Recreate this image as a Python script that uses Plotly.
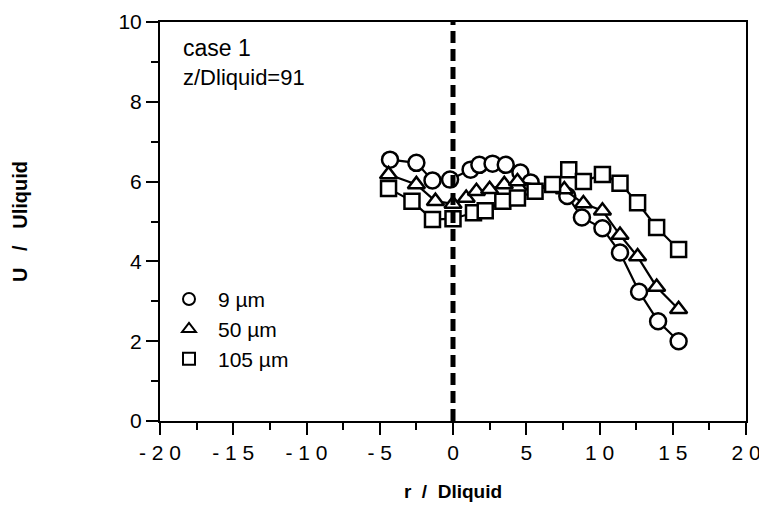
import plotly.graph_objects as go

# 9 um droplets (circles)
r_9 = [-4.3, -2.5, -1.4, -0.2, 1.2, 1.8, 2.7, 3.6, 4.6, 5.3, 7.8, 8.8, 10.2, 11.4, 12.7, 14.0, 15.4]
u_9 = [6.55, 6.47, 6.03, 6.05, 6.3, 6.42, 6.45, 6.42, 6.23, 5.98, 5.64, 5.1, 4.83, 4.22, 3.24, 2.5, 2.0]

# 50 um droplets (triangles)
r_50 = [-4.4, -2.5, -1.2, 0.0, 0.9, 1.6, 2.5, 3.5, 4.4, 7.6, 8.9, 10.2, 11.4, 12.6, 13.9, 15.4]
u_50 = [6.18, 5.93, 5.51, 5.44, 5.59, 5.76, 5.81, 5.93, 6.0, 5.8, 5.45, 5.27, 4.66, 4.12, 3.36, 2.8]

# 105 um droplets (squares)
r_105 = [-4.4, -2.8, -1.4, 0.0, 1.4, 2.2, 3.4, 4.4, 5.6, 6.8, 7.9, 8.9, 10.2, 11.4, 12.6, 13.9, 15.4]
u_105 = [5.83, 5.51, 5.05, 5.07, 5.22, 5.27, 5.51, 5.59, 5.76, 5.93, 6.3, 6.0, 6.18, 5.96, 5.47, 4.85, 4.3]

legend_names = ["9 \u00b5m", "50 \u00b5m", "105 \u00b5m"]
symbols = ["circle", "triangle-up", "square"]
sizes = [16, 15, 15]
legend_sizes = [14, 14, 14]

x_ticks = [-20, -15, -10, -5, 0, 5, 10, 15, 20]
x_ticktext = ["- 2 0", "- 1 5", "- 1 0", "- 5", "0", "5", "1 0", "1 5", "2 0"]
y_ticks = [0, 2, 4, 6, 8, 10]

FONT = "Liberation Sans, Arial, sans-serif"

fig = go.Figure()

series = [(r_9, u_9), (r_50, u_50), (r_105, u_105)]
legends = ["legend", "legend2", "legend3"]
for i, (xs, ys) in enumerate(series):
    fig.add_trace(go.Scatter(
        x=xs, y=ys, mode="lines+markers",
        line=dict(color="black", width=2.2),
        marker=dict(symbol=symbols[i], size=sizes[i], color="white",
                    line=dict(color="black", width=2.5)),
        showlegend=False,
    ))

# legend-only entries (markers only), one legend box per row
for i in range(3):
    fig.add_trace(go.Scatter(
        x=[None], y=[None], mode="markers", name=legend_names[i],
        marker=dict(symbol=symbols[i], size=legend_sizes[i], color="white",
                    line=dict(color="black", width=2.5)),
        showlegend=True, legend=legends[i],
    ))

# dashed vertical line at r = 0
fig.add_shape(type="line", x0=0, x1=0, y0=0, y1=10, xref="x", yref="y",
              line=dict(color="black", width=5, dash="12px,6px"))

fig.add_annotation(x=0.035, y=0.935, xref="paper", yref="paper", xanchor="left", yanchor="middle",
                   text="case 1", showarrow=False, font=dict(family=FONT, size=23, color="black"))
fig.add_annotation(x=0.035, y=0.86, xref="paper", yref="paper", xanchor="left", yanchor="middle",
                   text="z/Dliquid=91", showarrow=False, font=dict(family=FONT, size=22, color="black"))

leg_common = dict(xanchor="left", yanchor="middle", bgcolor="rgba(0,0,0,0)",
                  font=dict(family=FONT, size=21), itemsizing="constant", itemwidth=48)
fig.update_layout(
    width=767, height=506,
    margin=dict(l=152, r=29, t=14, b=93),
    paper_bgcolor="white", plot_bgcolor="white",
    font=dict(family=FONT, size=21, color="black"),
    legend=dict(x=0.0, y=0.305, **leg_common),
    legend2=dict(x=0.0, y=0.23, **leg_common),
    legend3=dict(x=0.0, y=0.155, **leg_common),
)

fig.update_xaxes(
    range=[-20, 20], tickvals=x_ticks, ticktext=x_ticktext, automargin=False,
    ticklabeloverflow="allow",
    showgrid=False, zeroline=False, showline=True, linecolor="black", linewidth=2, mirror=True,
    ticks="outside", ticklen=12, tickwidth=2, tickcolor="black",
    minor=dict(dtick=2.5, tick0=0, ticks="outside", ticklen=7, tickwidth=2, tickcolor="black"),
    tickfont=dict(family=FONT, size=21),
    title=dict(text="<b>r  /  Dliquid</b>", font=dict(family=FONT, size=19), standoff=21),
)
fig.update_yaxes(
    range=[0, 10], tickvals=y_ticks, ticktext=[str(v) for v in y_ticks], automargin=False,
    ticklabeloverflow="allow",
    showgrid=False, zeroline=False, showline=True, linecolor="black", linewidth=2, mirror=True,
    ticks="outside", ticklen=12, tickwidth=2, tickcolor="black", ticklabelstandoff=0,
    minor=dict(dtick=1, tick0=0, ticks="outside", ticklen=7, tickwidth=2, tickcolor="black"),
    tickfont=dict(family=FONT, size=21),
    title=dict(text="<b>U   /   Uliquid</b>", font=dict(family=FONT, size=20), standoff=85),
)

fig.write_html("out.html")
